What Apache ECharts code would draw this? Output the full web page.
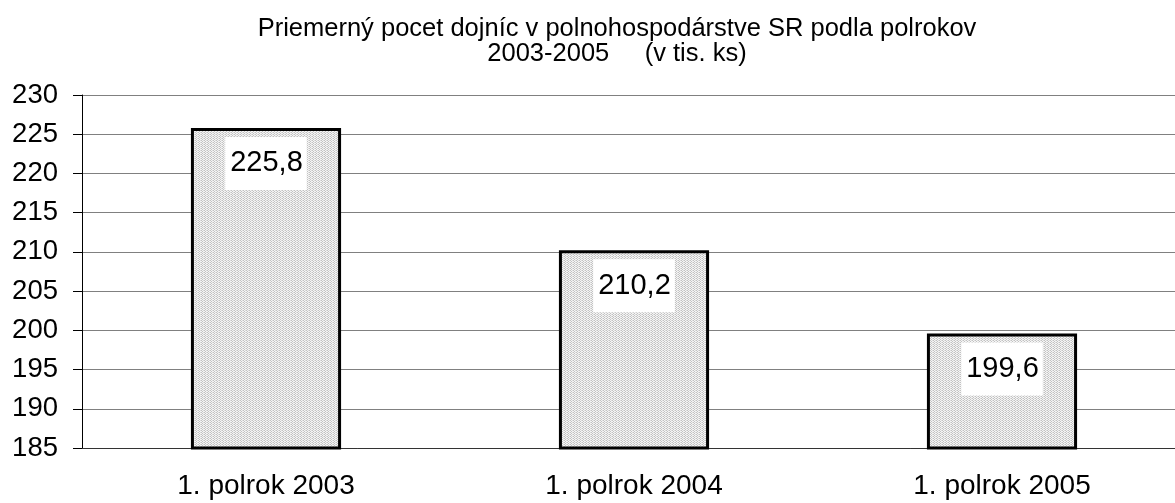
<!DOCTYPE html>
<html><head><meta charset="utf-8">
<script src="https://cdn.jsdelivr.net/npm/echarts@6/dist/echarts.min.js"></script>
<style>html,body{margin:0;padding:0;background:#fff;overflow:hidden;width:1175px;height:503px}#c{width:1186px;height:503px}</style>
</head><body><div id="c"></div>
<script>
var categories = ['1. polrok 2003', '1. polrok 2004', '1. polrok 2005'];
var values = [225.8, 210.2, 199.6];
var labels = ['225,8', '210,2', '199,6'];
var titleText = 'Priemerný pocet dojníc v polnohospodárstve SR podla polrokov\n2003-2005     (v tis. ks)';

var pc = document.createElement('canvas');
pc.width = 3; pc.height = 2;
var g = pc.getContext('2d');
g.fillStyle = '#f4f4f4'; g.fillRect(0,0,3,2);
g.fillStyle = '#c2c2c2';
g.fillRect(0,0,1,1); g.fillRect(1,1,1,1);
g.fillStyle = '#dcdcdc';
g.fillRect(2,0,1,1);

var chart = echarts.init(document.getElementById('c'));
chart.setOption({
  animation: false,
  title: {
    text: titleText, left: 612, textAlign: 'center', top: 11,
    textStyle: {fontFamily: 'Liberation Sans', fontSize: 25.5, fontWeight: 'normal', color: '#000', lineHeight: 25}
  },
  grid: {left: 82, right: 0, top: 95, bottom: 55},
  xAxis: {
    type: 'category', data: categories,
    axisLine: {lineStyle: {color: '#333', width: 1}},
    axisTick: {show: false},
    axisLabel: {fontFamily: 'Liberation Sans', fontSize: 28, color: '#000', margin: 24}
  },
  yAxis: {
    type: 'value', min: 185, max: 230, interval: 5,
    axisLine: {show: true, lineStyle: {color: '#000'}},
    axisTick: {show: true, length: 9, lineStyle: {color: '#000'}},
    axisLabel: {fontFamily: 'Liberation Sans', fontSize: 27.5, color: '#000', margin: 24},
    splitLine: {lineStyle: {color: '#808080', width: 1}}
  },
  series: [{
    type: 'bar', data: values, barWidth: '40.8%',
    itemStyle: {color: {image: pc, repeat: 'repeat'}, borderColor: '#000', borderWidth: 3},
    label: {
      show: true, position: 'insideTop', distance: 9,
      formatter: function(p){ return labels[p.dataIndex]; },
      fontFamily: 'Liberation Sans', fontSize: 29, color: '#000',
      backgroundColor: '#fff', padding: [12, 4, 12, 5]
    }
  }]
});
</script></body></html>
